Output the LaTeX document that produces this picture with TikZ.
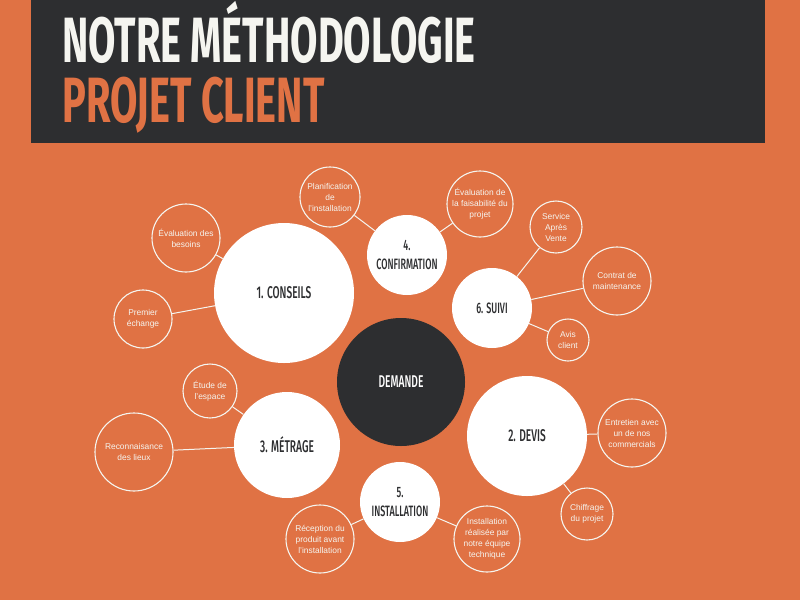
\documentclass[tikz,border=0pt]{standalone}
\usepackage{fontspec}
\setmainfont{Liberation Sans}
\newfontfamily\bebas[FakeStretch=0.62]{Fira Sans}
\newfontfamily\bebasm[FakeStretch=0.6]{Fira Sans Medium}
\definecolor{bg}{HTML}{E07244}
\definecolor{dark}{HTML}{2D2E30}
\definecolor{offw}{HTML}{F5F5F0}
\tikzset{
  big/.style={circle, fill=white, inner sep=0pt, text=dark, align=center,
    font=\bebasm\fontsize{17}{19}\selectfont},
  mid/.style={big, font=\bebasm\fontsize{15}{19}\selectfont},
  small/.style={circle, draw=offw, line width=1.1pt, inner sep=0pt, text=offw,
    align=center, font=\fontsize{8.4}{11}\selectfont},
  link/.style={draw=offw, line width=1pt},
  title/.style={anchor=base west, inner sep=0pt, font=\bebas\bfseries\fontsize{64}{64}\selectfont}
}
\begin{document}
\begin{tikzpicture}[x=1pt,y=-1pt]
\fill[bg] (0,0) rectangle (800,600);
\useasboundingbox (0,0) rectangle (800,600);
\fill[dark] (31,0) rectangle (765,143);
\node[title, text=offw] (t1) at (62,62) {NOTRE MÉTHODOLOGIE};
\node[title, text=bg] (t2) at (62,122) {PROJET CLIENT};

% main circles
\node[big, fill=dark, text=white, minimum size=128pt] (dem) at (401,382) {DEMANDE};
\node[big, minimum size=140pt] (cons) at (284,293) {1. CONSEILS};
\node[mid, minimum size=80pt] (conf) at (407,255) {4.\\CONFIRMATION};
\node[mid, minimum size=80pt] (suivi) at (492,308) {6. SUIVI};
\node[big, minimum size=120pt] (devis) at (527,436) {2. DEVIS};
\node[big, minimum size=106pt] (metr) at (287,445) {3. MÉTRAGE};
\node[mid, minimum size=80pt] (inst) at (400,502) {5.\\INSTALLATION};

% small circles
\node[small, minimum size=68pt] (s1) at (186,238) {Évaluation des\\besoins};
\node[small, minimum size=58pt] (s2) at (143,319) {Premier\\échange};
\node[small, minimum size=60pt] (s3) at (330,197) {Planification\\de\\l'installation};
\node[small, minimum size=66pt] (s4) at (480,204) {Évaluation de\\la faisabilité du\\projet};
\node[small, minimum size=52pt] (s5) at (556,227) {Service\\Après\\Vente};
\node[small, minimum size=68pt] (s6) at (617,281) {Contrat de\\maintenance};
\node[small, minimum size=42pt] (s7) at (568,340) {Avis\\client};
\node[small, minimum size=54pt] (s8) at (210,391) {Étude de\\l'espace};
\node[small, minimum size=78pt] (s9) at (134,452) {Reconnaisance\\des lieux};
\node[small, minimum size=68pt] (s10) at (320,539) {Réception du\\produit avant\\l'installation};
\node[small, minimum size=66pt] (s11) at (487,539) {Installation\\réalisée par\\notre équipe\\technique};
\node[small, minimum size=68pt] (s12) at (632,433) {Entretien avec\\un de nos\\commercials};
\node[small, minimum size=52pt] (s13) at (587,514) {Chiffrage\\du projet};

% connectors
\draw[link] (s1) -- (cons);
\draw[link] (s2) -- (cons);
\draw[link] (s3) -- (conf);
\draw[link] (s4) -- (conf);
\draw[link] (s5) -- (suivi);
\draw[link] (s6) -- (suivi);
\draw[link] (s7) -- (suivi);
\draw[link] (s8) -- (metr);
\draw[link] (s9) -- (metr);
\draw[link] (s10) -- (inst);
\draw[link] (s11) -- (inst);
\draw[link] (s12) -- (devis);
\draw[link] (s13) -- (devis);
\end{tikzpicture}
\end{document}
